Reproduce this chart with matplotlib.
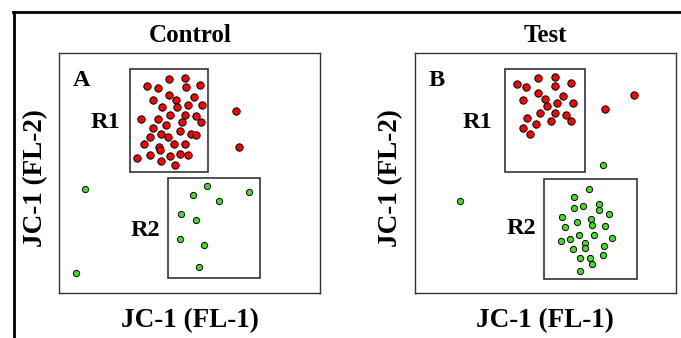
import matplotlib
matplotlib.use("Agg")
import matplotlib.pyplot as plt
from matplotlib.patches import Rectangle
from matplotlib.lines import Line2D

# ── DATA (arbitrary fluorescence units, 0-100) ────────────────
ctrl_red_x = [42.0, 48.3, 33.7, 37.7, 48.5, 53.9, 35.8, 42.0, 44.9, 51.5,
              39.2, 45.0, 49.2, 54.8, 31.4, 37.7, 42.5, 48.2, 52.5, 54.2,
              35.8, 41.0, 47.2, 38.8, 41.6, 46.2, 50.3, 52.5, 34.9, 32.3,
              38.2, 43.8, 48.2, 38.7, 29.9, 34.9, 39.1, 42.4, 46.2, 49.4,
              44.4, 67.7, 68.7]
ctrl_red_y = [89.1, 89.7, 86.5, 85.5, 85.8, 86.9, 80.5, 82.7, 80.5, 81.8,
              77.4, 77.4, 78.6, 78.6, 72.4, 72.6, 74.4, 74.4, 73.7, 71.2,
              68.7, 70.1, 71.2, 66.2, 65.0, 67.5, 66.2, 66.0, 65.0, 62.3,
              60.9, 62.3, 62.3, 59.5, 56.1, 57.5, 54.9, 57.2, 57.8, 57.4,
              53.3, 75.9, 60.9]
ctrl_green_x = [56.7, 51.4, 61.1, 72.5, 46.7, 52.3, 46.2, 55.6, 53.4, 9.9, 6.4]
ctrl_green_y = [44.6, 40.9, 38.4, 42.1, 33.0, 30.4, 22.6, 19.8, 10.7, 43.5, 8.2]

test_red_x = [39.2, 42.8, 47.2, 53.8, 59.7, 53.9, 41.4, 47.2, 49.8, 50.7,
              54.5, 57.0, 60.6, 48.0, 53.9, 58.0, 59.8, 43.0, 41.4, 46.6,
              52.4, 44.2, 73.1, 84.1]
test_red_y = [87.0, 85.9, 89.6, 90.3, 87.5, 86.4, 80.6, 83.4, 80.8, 78.1,
              79.1, 82.3, 79.1, 74.9, 74.9, 74.1, 71.6, 72.8, 68.9, 70.3,
              71.7, 66.4, 76.6, 82.7]
test_green_x = [66.6, 61.2, 70.7, 61.2, 64.4, 70.7, 74.4, 56.5, 67.5, 62.1,
                57.7, 68.1, 73.1, 62.9, 68.6, 75.5, 56.1, 59.5, 65.4, 65.4,
                60.7, 72.7, 72.0, 63.4, 67.3, 67.9, 63.5, 72.2, 17.4]
test_green_y = [43.5, 39.8, 37.2, 35.5, 36.1, 34.5, 32.7, 31.8, 30.8, 29.4,
                27.6, 28.3, 27.7, 24.0, 24.0, 23.0, 21.7, 22.6, 20.8, 18.5,
                18.4, 19.5, 15.9, 14.6, 14.6, 12.0, 9.2, 53.5, 38.2]

# gates: (x0, x1, y0, y1)
ctrl_r1 = (27.0, 57.1, 50.4, 93.6)
ctrl_r2 = (41.8, 76.9, 6.0, 48.0)
test_r1 = (34.7, 65.3, 50.4, 93.6)
test_r2 = (49.7, 85.0, 5.6, 47.5)

W, H = 681, 338
SERIF = "Liberation Serif"

def fx(px):
    return px / W

def fy(py):
    return 1 - py / H

fig = plt.figure(figsize=(6.81, 3.38), dpi=100)

def panel(left_px, title, letter, rx, ry, gx, gy, r1, r2, labels):
    ax = fig.add_axes([fx(left_px), fy(292.7), 261 / W, 239.4 / H])
    ax.set_xlim(0, 100)
    ax.set_ylim(0, 100)
    ax.set_xticks([])
    ax.set_yticks([])
    for s in ax.spines.values():
        s.set_color("#333333")
        s.set_linewidth(1.0)
    for g in (r1, r2):
        ax.add_patch(Rectangle((g[0], g[2]), g[1] - g[0], g[3] - g[2],
                               fill=False, edgecolor="#333333", lw=1.2))
    ax.scatter(rx, ry, s=28, c="#ff0000", edgecolors="black", linewidths=0.7, zorder=3)
    ax.scatter(gx, gy, s=20, c="#44e020", edgecolors="black", linewidths=0.7, zorder=3)
    ax.set_xlabel("JC-1 (FL-1)", fontsize=19.5, fontweight="bold",
                  family=SERIF, labelpad=11)
    ax.set_ylabel("JC-1 (FL-2)", fontsize=19.5, fontweight="bold",
                  family=SERIF, labelpad=8)
    ax.yaxis.label.set_y(0.48)
    ax.set_title(title, fontsize=18, fontweight="bold", family=SERIF, pad=8)
    for txt, (x, y) in zip([letter, "R1", "R2"], labels):
        fig.text(fx(x), fy(y), txt, fontsize=17.5, fontweight="bold",
                 family=SERIF, ha="center", va="center")
    return ax

panel(59.3, "Control", "A", ctrl_red_x, ctrl_red_y, ctrl_green_x, ctrl_green_y,
      ctrl_r1, ctrl_r2, [(82, 80), (105, 123), (145, 230)])
panel(414.7, "Test", "B", test_red_x, test_red_y, test_green_x, test_green_y,
      test_r1, test_r2, [(437, 80), (477, 123), (521, 229)])

# outer border (top and left)
fig.add_artist(Line2D([fx(13), fx(681)], [fy(12), fy(12)], color="black", lw=2))
fig.add_artist(Line2D([fx(14), fx(14)], [fy(12), fy(338)], color="black", lw=2))

fig.savefig("out.png", dpi=100)
